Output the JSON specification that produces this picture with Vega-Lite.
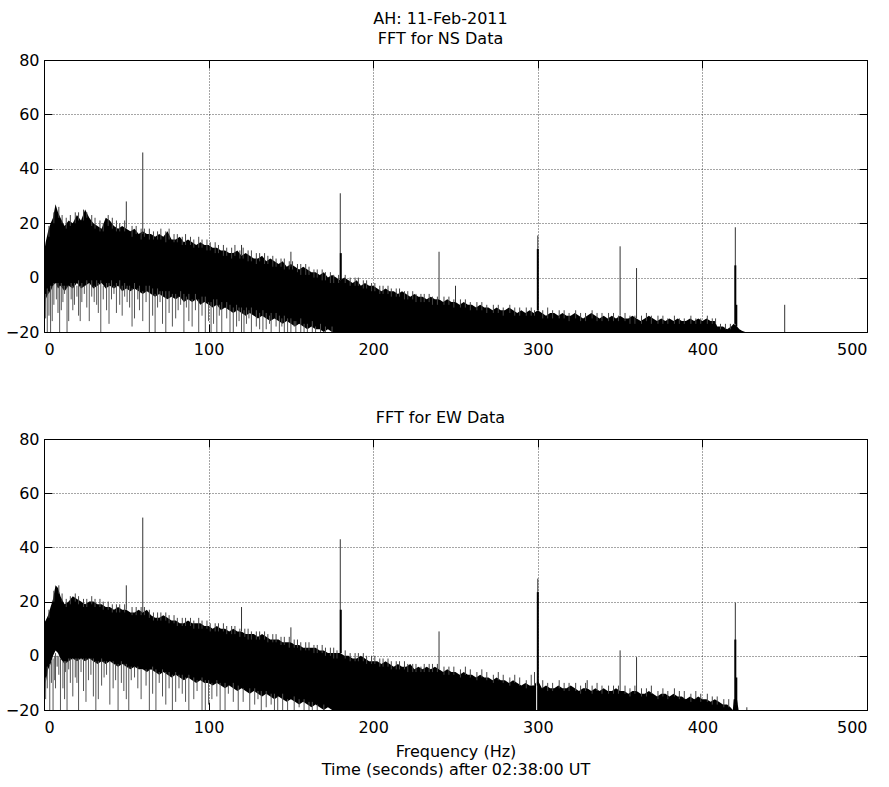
{
"$schema":"https://vega.github.io/schema/vega-lite/v6.json",
"background":"#fff",
"padding":{"left":4,"top":10,"right":20,"bottom":10},
"spacing":51,
"config":{
 "view":{"stroke":"#000","strokeWidth":1},
 "font":"DejaVu Sans",
 "title":{"font":"DejaVu Sans","fontSize":16,"fontWeight":"normal","color":"#000","lineHeight":20},
 "axis":{"labelFont":"DejaVu Sans","labelFontSize":16,"labelColor":"#000","titleFont":"DejaVu Sans","titleFontSize":16,"titleFontWeight":"normal","titleColor":"#000","tickColor":"#000","domain":false}
},
"datasets":{
"band":[
{"p":"NS","f":0,"hi":9,"lo":-20},{"p":"NS","f":1,"hi":13,"lo":-8},{"p":"NS","f":2.5,"hi":17,"lo":-6},{"p":"NS","f":4,"hi":20,"lo":-5},{"p":"NS","f":5.5,"hi":22,"lo":-3},{"p":"NS","f":7,"hi":27,"lo":-2},{"p":"NS","f":8.5,"hi":24,"lo":-4},{"p":"NS","f":10,"hi":22,"lo":-3},{"p":"NS","f":12.5,"hi":19,"lo":-5},{"p":"NS","f":15,"hi":21,"lo":-3},{"p":"NS","f":17.5,"hi":20,"lo":-4},{"p":"NS","f":20,"hi":23,"lo":-2},{"p":"NS","f":22.5,"hi":21,"lo":-4},{"p":"NS","f":25,"hi":25,"lo":-3},{"p":"NS","f":27.5,"hi":22,"lo":-2},{"p":"NS","f":30,"hi":20,"lo":-4},{"p":"NS","f":32.5,"hi":19,"lo":-3},{"p":"NS","f":35,"hi":18,"lo":-2},{"p":"NS","f":37.5,"hi":22,"lo":-4},{"p":"NS","f":40,"hi":21,"lo":-3},{"p":"NS","f":42.5,"hi":19,"lo":-4},{"p":"NS","f":45,"hi":18,"lo":-3},{"p":"NS","f":47.5,"hi":19,"lo":-5},{"p":"NS","f":50,"hi":18,"lo":-4},{"p":"NS","f":52.5,"hi":17,"lo":-5},{"p":"NS","f":55,"hi":18,"lo":-4},{"p":"NS","f":57.5,"hi":16,"lo":-5},{"p":"NS","f":60,"hi":17,"lo":-6},{"p":"NS","f":62.5,"hi":16,"lo":-5},{"p":"NS","f":65,"hi":16,"lo":-6},{"p":"NS","f":67.5,"hi":15,"lo":-7},{"p":"NS","f":70,"hi":16,"lo":-6},{"p":"NS","f":72.5,"hi":15,"lo":-7},{"p":"NS","f":75,"hi":17,"lo":-8},{"p":"NS","f":77.5,"hi":14,"lo":-7},{"p":"NS","f":80,"hi":14,"lo":-8},{"p":"NS","f":82.5,"hi":15,"lo":-7},{"p":"NS","f":85,"hi":13,"lo":-9},{"p":"NS","f":87.5,"hi":14,"lo":-8},{"p":"NS","f":90,"hi":13,"lo":-9},{"p":"NS","f":92.5,"hi":12,"lo":-8},{"p":"NS","f":95,"hi":13,"lo":-10},{"p":"NS","f":97.5,"hi":12,"lo":-9},{"p":"NS","f":100,"hi":12,"lo":-10},{"p":"NS","f":102.5,"hi":11,"lo":-11},{"p":"NS","f":105,"hi":11,"lo":-10},{"p":"NS","f":107.5,"hi":10,"lo":-12},{"p":"NS","f":110,"hi":10,"lo":-11},{"p":"NS","f":112.5,"hi":9,"lo":-12},{"p":"NS","f":115,"hi":9,"lo":-13},{"p":"NS","f":117.5,"hi":10,"lo":-12},{"p":"NS","f":120,"hi":8,"lo":-13},{"p":"NS","f":122.5,"hi":9,"lo":-14},{"p":"NS","f":125,"hi":8,"lo":-13},{"p":"NS","f":127.5,"hi":7,"lo":-14},{"p":"NS","f":130,"hi":7,"lo":-15},{"p":"NS","f":132.5,"hi":8,"lo":-14},{"p":"NS","f":135,"hi":6,"lo":-15},{"p":"NS","f":137.5,"hi":7,"lo":-16},{"p":"NS","f":140,"hi":6,"lo":-15},{"p":"NS","f":142.5,"hi":5,"lo":-16},{"p":"NS","f":145,"hi":6,"lo":-17},{"p":"NS","f":147.5,"hi":4,"lo":-16},{"p":"NS","f":150,"hi":5,"lo":-17},{"p":"NS","f":152.5,"hi":4,"lo":-18},{"p":"NS","f":155,"hi":3,"lo":-17},{"p":"NS","f":157.5,"hi":4,"lo":-18},{"p":"NS","f":160,"hi":3,"lo":-19},{"p":"NS","f":162.5,"hi":2,"lo":-18},{"p":"NS","f":165,"hi":2,"lo":-19},{"p":"NS","f":167.5,"hi":1,"lo":-19},{"p":"NS","f":170,"hi":2,"lo":-20},{"p":"NS","f":172.5,"hi":0,"lo":-19},{"p":"NS","f":175,"hi":1,"lo":-20},{"p":"NS","f":177.5,"hi":0,"lo":-20},{"p":"NS","f":180,"hi":-1,"lo":-20},{"p":"NS","f":182.5,"hi":0,"lo":-20},{"p":"NS","f":185,"hi":-1,"lo":-20},{"p":"NS","f":187.5,"hi":-2,"lo":-20},{"p":"NS","f":190,"hi":-1,"lo":-20},{"p":"NS","f":192.5,"hi":-3,"lo":-20},{"p":"NS","f":195,"hi":-2,"lo":-20},{"p":"NS","f":197.5,"hi":-3,"lo":-20},{"p":"NS","f":200,"hi":-3,"lo":-20},{"p":"NS","f":202.5,"hi":-4,"lo":-20},{"p":"NS","f":205,"hi":-5,"lo":-20},{"p":"NS","f":207.5,"hi":-4,"lo":-20},{"p":"NS","f":210,"hi":-5,"lo":-20},{"p":"NS","f":212.5,"hi":-5,"lo":-20},{"p":"NS","f":215,"hi":-6,"lo":-20},{"p":"NS","f":217.5,"hi":-5,"lo":-20},{"p":"NS","f":220,"hi":-6,"lo":-20},{"p":"NS","f":222.5,"hi":-7,"lo":-20},{"p":"NS","f":225,"hi":-6,"lo":-20},{"p":"NS","f":227.5,"hi":-7,"lo":-20},{"p":"NS","f":230,"hi":-7,"lo":-20},{"p":"NS","f":232.5,"hi":-8,"lo":-20},{"p":"NS","f":235,"hi":-7,"lo":-20},{"p":"NS","f":237.5,"hi":-8,"lo":-20},{"p":"NS","f":240,"hi":-8,"lo":-20},{"p":"NS","f":242.5,"hi":-9,"lo":-20},{"p":"NS","f":245,"hi":-8,"lo":-20},{"p":"NS","f":247.5,"hi":-9,"lo":-20},{"p":"NS","f":250,"hi":-9,"lo":-20},{"p":"NS","f":252.5,"hi":-10,"lo":-20},{"p":"NS","f":255,"hi":-9,"lo":-20},{"p":"NS","f":257.5,"hi":-10,"lo":-20},{"p":"NS","f":260,"hi":-10,"lo":-20},{"p":"NS","f":262.5,"hi":-11,"lo":-20},{"p":"NS","f":265,"hi":-10,"lo":-20},{"p":"NS","f":267.5,"hi":-11,"lo":-20},{"p":"NS","f":270,"hi":-11,"lo":-20},{"p":"NS","f":272.5,"hi":-12,"lo":-20},{"p":"NS","f":275,"hi":-11,"lo":-20},{"p":"NS","f":277.5,"hi":-12,"lo":-20},{"p":"NS","f":280,"hi":-12,"lo":-20},{"p":"NS","f":282.5,"hi":-11,"lo":-20},{"p":"NS","f":285,"hi":-12,"lo":-20},{"p":"NS","f":287.5,"hi":-13,"lo":-20},{"p":"NS","f":290,"hi":-12,"lo":-20},{"p":"NS","f":292.5,"hi":-13,"lo":-20},{"p":"NS","f":295,"hi":-12,"lo":-20},{"p":"NS","f":297.5,"hi":-13,"lo":-20},{"p":"NS","f":300,"hi":-12,"lo":-20},{"p":"NS","f":302.5,"hi":-13,"lo":-20},{"p":"NS","f":305,"hi":-14,"lo":-20},{"p":"NS","f":307.5,"hi":-13,"lo":-20},{"p":"NS","f":310,"hi":-13,"lo":-20},{"p":"NS","f":312.5,"hi":-14,"lo":-20},{"p":"NS","f":315,"hi":-13,"lo":-20},{"p":"NS","f":317.5,"hi":-14,"lo":-20},{"p":"NS","f":320,"hi":-14,"lo":-20},{"p":"NS","f":322.5,"hi":-13,"lo":-20},{"p":"NS","f":325,"hi":-14,"lo":-20},{"p":"NS","f":327.5,"hi":-15,"lo":-20},{"p":"NS","f":330,"hi":-14,"lo":-20},{"p":"NS","f":332.5,"hi":-13,"lo":-20},{"p":"NS","f":335,"hi":-14,"lo":-20},{"p":"NS","f":337.5,"hi":-15,"lo":-20},{"p":"NS","f":340,"hi":-14,"lo":-20},{"p":"NS","f":342.5,"hi":-15,"lo":-20},{"p":"NS","f":345,"hi":-14,"lo":-20},{"p":"NS","f":347.5,"hi":-15,"lo":-20},{"p":"NS","f":350,"hi":-14,"lo":-20},{"p":"NS","f":352.5,"hi":-15,"lo":-20},{"p":"NS","f":355,"hi":-15,"lo":-20},{"p":"NS","f":357.5,"hi":-14,"lo":-20},{"p":"NS","f":360,"hi":-15,"lo":-20},{"p":"NS","f":362.5,"hi":-16,"lo":-20},{"p":"NS","f":365,"hi":-15,"lo":-20},{"p":"NS","f":367.5,"hi":-14,"lo":-20},{"p":"NS","f":370,"hi":-15,"lo":-20},{"p":"NS","f":372.5,"hi":-16,"lo":-20},{"p":"NS","f":375,"hi":-15,"lo":-20},{"p":"NS","f":377.5,"hi":-16,"lo":-20},{"p":"NS","f":380,"hi":-15,"lo":-20},{"p":"NS","f":382.5,"hi":-16,"lo":-20},{"p":"NS","f":385,"hi":-15,"lo":-20},{"p":"NS","f":387.5,"hi":-16,"lo":-20},{"p":"NS","f":390,"hi":-16,"lo":-20},{"p":"NS","f":392.5,"hi":-15,"lo":-20},{"p":"NS","f":395,"hi":-16,"lo":-20},{"p":"NS","f":397.5,"hi":-15,"lo":-20},{"p":"NS","f":400,"hi":-16,"lo":-20},{"p":"NS","f":402.5,"hi":-15,"lo":-20},{"p":"NS","f":405,"hi":-16,"lo":-20},{"p":"NS","f":407.5,"hi":-16,"lo":-20},{"p":"NS","f":409,"hi":-18,"lo":-20},{"p":"NS","f":412.5,"hi":-18,"lo":-20},{"p":"NS","f":415,"hi":-19,"lo":-20},{"p":"NS","f":417.5,"hi":-18,"lo":-20},{"p":"NS","f":419,"hi":-17,"lo":-20},{"p":"NS","f":421,"hi":-18,"lo":-20},{"p":"NS","f":422.5,"hi":-19,"lo":-20},{"p":"NS","f":424,"hi":-19.5,"lo":-20},{"p":"NS","f":426,"hi":-20,"lo":-20},
{"p":"EW","f":0,"hi":12,"lo":-20},{"p":"EW","f":1,"hi":13,"lo":-10},{"p":"EW","f":2.5,"hi":15,"lo":-5},{"p":"EW","f":4,"hi":18,"lo":-3},{"p":"EW","f":5.5,"hi":21,"lo":0},{"p":"EW","f":7,"hi":26,"lo":2},{"p":"EW","f":8.5,"hi":25,"lo":1},{"p":"EW","f":10,"hi":22,"lo":-1},{"p":"EW","f":12.5,"hi":19,"lo":-3},{"p":"EW","f":15,"hi":20,"lo":-2},{"p":"EW","f":17.5,"hi":22,"lo":-1},{"p":"EW","f":20,"hi":21,"lo":-2},{"p":"EW","f":22.5,"hi":20,"lo":-1},{"p":"EW","f":25,"hi":19,"lo":-2},{"p":"EW","f":27.5,"hi":20,"lo":-1},{"p":"EW","f":30,"hi":20,"lo":-2},{"p":"EW","f":32.5,"hi":19,"lo":-3},{"p":"EW","f":35,"hi":19,"lo":-2},{"p":"EW","f":37.5,"hi":18,"lo":-3},{"p":"EW","f":40,"hi":18,"lo":-2},{"p":"EW","f":42.5,"hi":17,"lo":-3},{"p":"EW","f":45,"hi":18,"lo":-4},{"p":"EW","f":47.5,"hi":17,"lo":-3},{"p":"EW","f":50,"hi":17,"lo":-4},{"p":"EW","f":52.5,"hi":16,"lo":-5},{"p":"EW","f":55,"hi":16,"lo":-4},{"p":"EW","f":57.5,"hi":17,"lo":-5},{"p":"EW","f":60,"hi":16,"lo":-5},{"p":"EW","f":62.5,"hi":17,"lo":-6},{"p":"EW","f":65,"hi":15,"lo":-5},{"p":"EW","f":67.5,"hi":14,"lo":-6},{"p":"EW","f":70,"hi":14,"lo":-7},{"p":"EW","f":72.5,"hi":15,"lo":-6},{"p":"EW","f":75,"hi":14,"lo":-7},{"p":"EW","f":77.5,"hi":13,"lo":-8},{"p":"EW","f":80,"hi":13,"lo":-7},{"p":"EW","f":82.5,"hi":12,"lo":-8},{"p":"EW","f":85,"hi":12,"lo":-9},{"p":"EW","f":87.5,"hi":13,"lo":-8},{"p":"EW","f":90,"hi":12,"lo":-9},{"p":"EW","f":92.5,"hi":12,"lo":-10},{"p":"EW","f":95,"hi":12,"lo":-9},{"p":"EW","f":97.5,"hi":11,"lo":-10},{"p":"EW","f":100,"hi":11,"lo":-10},{"p":"EW","f":102.5,"hi":10,"lo":-11},{"p":"EW","f":105,"hi":11,"lo":-10},{"p":"EW","f":107.5,"hi":10,"lo":-11},{"p":"EW","f":110,"hi":10,"lo":-12},{"p":"EW","f":112.5,"hi":9,"lo":-11},{"p":"EW","f":115,"hi":10,"lo":-12},{"p":"EW","f":117.5,"hi":9,"lo":-13},{"p":"EW","f":120,"hi":9,"lo":-12},{"p":"EW","f":122.5,"hi":8,"lo":-13},{"p":"EW","f":125,"hi":8,"lo":-14},{"p":"EW","f":127.5,"hi":8,"lo":-13},{"p":"EW","f":130,"hi":7,"lo":-14},{"p":"EW","f":132.5,"hi":8,"lo":-15},{"p":"EW","f":135,"hi":7,"lo":-14},{"p":"EW","f":137.5,"hi":6,"lo":-15},{"p":"EW","f":140,"hi":6,"lo":-16},{"p":"EW","f":142.5,"hi":6,"lo":-15},{"p":"EW","f":145,"hi":5,"lo":-16},{"p":"EW","f":147.5,"hi":5,"lo":-17},{"p":"EW","f":150,"hi":5,"lo":-16},{"p":"EW","f":152.5,"hi":4,"lo":-17},{"p":"EW","f":155,"hi":4,"lo":-18},{"p":"EW","f":157.5,"hi":3,"lo":-17},{"p":"EW","f":160,"hi":3,"lo":-18},{"p":"EW","f":162.5,"hi":3,"lo":-19},{"p":"EW","f":165,"hi":3,"lo":-18},{"p":"EW","f":167.5,"hi":2,"lo":-19},{"p":"EW","f":170,"hi":2,"lo":-20},{"p":"EW","f":172.5,"hi":1,"lo":-19},{"p":"EW","f":175,"hi":1,"lo":-20},{"p":"EW","f":177.5,"hi":1,"lo":-20},{"p":"EW","f":180,"hi":1,"lo":-20},{"p":"EW","f":182.5,"hi":0,"lo":-20},{"p":"EW","f":185,"hi":0,"lo":-20},{"p":"EW","f":187.5,"hi":-1,"lo":-20},{"p":"EW","f":190,"hi":-1,"lo":-20},{"p":"EW","f":192.5,"hi":0,"lo":-20},{"p":"EW","f":195,"hi":-1,"lo":-20},{"p":"EW","f":197.5,"hi":-2,"lo":-20},{"p":"EW","f":200,"hi":-2,"lo":-20},{"p":"EW","f":202.5,"hi":-2,"lo":-20},{"p":"EW","f":205,"hi":-3,"lo":-20},{"p":"EW","f":207.5,"hi":-2,"lo":-20},{"p":"EW","f":210,"hi":-3,"lo":-20},{"p":"EW","f":212.5,"hi":-4,"lo":-20},{"p":"EW","f":215,"hi":-3,"lo":-20},{"p":"EW","f":217.5,"hi":-4,"lo":-20},{"p":"EW","f":220,"hi":-4,"lo":-20},{"p":"EW","f":222.5,"hi":-3,"lo":-20},{"p":"EW","f":225,"hi":-5,"lo":-20},{"p":"EW","f":227.5,"hi":-4,"lo":-20},{"p":"EW","f":230,"hi":-5,"lo":-20},{"p":"EW","f":232.5,"hi":-4,"lo":-20},{"p":"EW","f":235,"hi":-5,"lo":-20},{"p":"EW","f":237.5,"hi":-4,"lo":-20},{"p":"EW","f":240,"hi":-5,"lo":-20},{"p":"EW","f":242.5,"hi":-6,"lo":-20},{"p":"EW","f":245,"hi":-5,"lo":-20},{"p":"EW","f":247.5,"hi":-6,"lo":-20},{"p":"EW","f":250,"hi":-6,"lo":-20},{"p":"EW","f":252.5,"hi":-7,"lo":-20},{"p":"EW","f":255,"hi":-6,"lo":-20},{"p":"EW","f":257.5,"hi":-7,"lo":-20},{"p":"EW","f":260,"hi":-7,"lo":-20},{"p":"EW","f":262.5,"hi":-8,"lo":-20},{"p":"EW","f":265,"hi":-7,"lo":-20},{"p":"EW","f":267.5,"hi":-8,"lo":-20},{"p":"EW","f":270,"hi":-8,"lo":-20},{"p":"EW","f":272.5,"hi":-9,"lo":-20},{"p":"EW","f":275,"hi":-8,"lo":-20},{"p":"EW","f":277.5,"hi":-9,"lo":-20},{"p":"EW","f":280,"hi":-9,"lo":-20},{"p":"EW","f":282.5,"hi":-10,"lo":-20},{"p":"EW","f":285,"hi":-9,"lo":-20},{"p":"EW","f":287.5,"hi":-10,"lo":-20},{"p":"EW","f":290,"hi":-11,"lo":-20},{"p":"EW","f":292.5,"hi":-10,"lo":-20},{"p":"EW","f":295,"hi":-11,"lo":-20},{"p":"EW","f":297.5,"hi":-11,"lo":-20},{"p":"EW","f":300,"hi":-9,"lo":-20},{"p":"EW","f":302.5,"hi":-12,"lo":-20},{"p":"EW","f":305,"hi":-11,"lo":-20},{"p":"EW","f":307.5,"hi":-12,"lo":-20},{"p":"EW","f":310,"hi":-12,"lo":-20},{"p":"EW","f":312.5,"hi":-11,"lo":-20},{"p":"EW","f":315,"hi":-12,"lo":-20},{"p":"EW","f":317.5,"hi":-12,"lo":-20},{"p":"EW","f":320,"hi":-11,"lo":-20},{"p":"EW","f":322.5,"hi":-12,"lo":-20},{"p":"EW","f":325,"hi":-13,"lo":-20},{"p":"EW","f":327.5,"hi":-12,"lo":-20},{"p":"EW","f":330,"hi":-12,"lo":-20},{"p":"EW","f":332.5,"hi":-13,"lo":-20},{"p":"EW","f":335,"hi":-12,"lo":-20},{"p":"EW","f":337.5,"hi":-13,"lo":-20},{"p":"EW","f":340,"hi":-12,"lo":-20},{"p":"EW","f":342.5,"hi":-13,"lo":-20},{"p":"EW","f":345,"hi":-13,"lo":-20},{"p":"EW","f":347.5,"hi":-12,"lo":-20},{"p":"EW","f":350,"hi":-13,"lo":-20},{"p":"EW","f":352.5,"hi":-13,"lo":-20},{"p":"EW","f":355,"hi":-14,"lo":-20},{"p":"EW","f":357.5,"hi":-13,"lo":-20},{"p":"EW","f":360,"hi":-13,"lo":-20},{"p":"EW","f":362.5,"hi":-14,"lo":-20},{"p":"EW","f":365,"hi":-14,"lo":-20},{"p":"EW","f":367.5,"hi":-13,"lo":-20},{"p":"EW","f":370,"hi":-14,"lo":-20},{"p":"EW","f":372.5,"hi":-15,"lo":-20},{"p":"EW","f":375,"hi":-14,"lo":-20},{"p":"EW","f":377.5,"hi":-14,"lo":-20},{"p":"EW","f":380,"hi":-15,"lo":-20},{"p":"EW","f":382.5,"hi":-14,"lo":-20},{"p":"EW","f":385,"hi":-15,"lo":-20},{"p":"EW","f":387.5,"hi":-15,"lo":-20},{"p":"EW","f":390,"hi":-16,"lo":-20},{"p":"EW","f":392.5,"hi":-15,"lo":-20},{"p":"EW","f":395,"hi":-16,"lo":-20},{"p":"EW","f":397.5,"hi":-15,"lo":-20},{"p":"EW","f":400,"hi":-16,"lo":-20},{"p":"EW","f":402.5,"hi":-16,"lo":-20},{"p":"EW","f":405,"hi":-17,"lo":-20},{"p":"EW","f":407.5,"hi":-16,"lo":-20},{"p":"EW","f":410,"hi":-17,"lo":-20},{"p":"EW","f":412.5,"hi":-18,"lo":-20},{"p":"EW","f":415,"hi":-18,"lo":-20},{"p":"EW","f":417,"hi":-19,"lo":-20},{"p":"EW","f":418.5,"hi":-20,"lo":-20},{"p":"EW","f":419,"hi":-16,"lo":-20},{"p":"EW","f":421,"hi":-16,"lo":-20},{"p":"EW","f":422,"hi":-20,"lo":-20}
],
"spk":[
{"p":"NS","k":"down","f":2,"y":-20,"y2":-4},{"p":"NS","k":"down","f":4,"y":-20,"y2":-3},{"p":"NS","k":"down","f":6,"y":-10,"y2":-2},{"p":"NS","k":"down","f":8.5,"y":-13,"y2":-2},{"p":"NS","k":"down","f":10.5,"y":-12,"y2":-2},{"p":"NS","k":"down","f":12.5,"y":-6,"y2":-3},{"p":"NS","k":"down","f":14,"y":-20,"y2":-3},{"p":"NS","k":"down","f":16.5,"y":-8,"y2":-2},{"p":"NS","k":"down","f":18.5,"y":-10,"y2":-2},{"p":"NS","k":"down","f":21,"y":-14,"y2":-1},{"p":"NS","k":"down","f":23,"y":-9,"y2":-2},{"p":"NS","k":"down","f":26,"y":-11,"y2":-1},{"p":"NS","k":"down","f":29,"y":-7,"y2":-1},{"p":"NS","k":"down","f":32,"y":-10,"y2":-1},{"p":"NS","k":"down","f":34.5,"y":-20,"y2":-1},{"p":"NS","k":"down","f":38,"y":-12,"y2":-2},{"p":"NS","k":"down","f":41,"y":-8,"y2":-1},{"p":"NS","k":"down","f":44,"y":-13,"y2":-2},{"p":"NS","k":"down","f":46,"y":-10,"y2":-1},{"p":"NS","k":"down","f":49,"y":-7,"y2":-2},{"p":"NS","k":"down","f":52,"y":-11,"y2":-3},{"p":"NS","k":"down","f":55,"y":-15,"y2":-2},{"p":"NS","k":"down","f":58,"y":-12,"y2":-3},{"p":"NS","k":"down","f":62,"y":-9,"y2":-3},{"p":"NS","k":"down","f":64,"y":-20,"y2":-3},{"p":"NS","k":"down","f":66,"y":-14,"y2":-4},{"p":"NS","k":"down","f":69,"y":-11,"y2":-4},{"p":"NS","k":"down","f":72,"y":-17,"y2":-5},{"p":"NS","k":"down","f":74,"y":-20,"y2":-5},{"p":"NS","k":"down","f":76,"y":-13,"y2":-5},{"p":"NS","k":"down","f":80,"y":-15,"y2":-6},{"p":"NS","k":"down","f":83,"y":-10,"y2":-5},{"p":"NS","k":"down","f":85,"y":-20,"y2":-6},{"p":"NS","k":"down","f":88,"y":-16,"y2":-6},{"p":"NS","k":"down","f":92,"y":-12,"y2":-6},{"p":"NS","k":"down","f":96,"y":-14,"y2":-7},{"p":"NS","k":"down","f":98,"y":-20,"y2":-7},{"p":"NS","k":"down","f":103,"y":-17,"y2":-8},{"p":"NS","k":"down","f":105,"y":-20,"y2":-8},{"p":"NS","k":"down","f":108,"y":-20,"y2":-9},{"p":"NS","k":"down","f":111,"y":-15,"y2":-9},{"p":"NS","k":"down","f":113,"y":-20,"y2":-10},{"p":"NS","k":"down","f":117,"y":-18,"y2":-10},{"p":"NS","k":"down","f":120,"y":-20,"y2":-11},{"p":"NS","k":"down","f":123,"y":-17,"y2":-11},{"p":"NS","k":"down","f":126,"y":-20,"y2":-11},{"p":"NS","k":"down","f":129,"y":-18,"y2":-12},{"p":"NS","k":"down","f":133,"y":-20,"y2":-12},{"p":"NS","k":"down","f":135,"y":-19,"y2":-13},{"p":"NS","k":"down","f":138,"y":-20,"y2":-13},{"p":"NS","k":"down","f":141,"y":-18,"y2":-13},{"p":"NS","k":"down","f":143,"y":-20,"y2":-14},{"p":"NS","k":"down","f":146,"y":-20,"y2":-14},{"p":"NS","k":"down","f":150,"y":-20,"y2":-15},{"p":"NS","k":"down","f":153,"y":-20,"y2":-16},{"p":"NS","k":"down","f":156,"y":-20,"y2":-15},{"p":"NS","k":"down","f":160,"y":-20,"y2":-17},{"p":"NS","k":"down","f":163,"y":-20,"y2":-16},{"p":"NS","k":"down","f":168,"y":-20,"y2":-17},{"p":"NS","k":"down","f":175,"y":-20,"y2":-18},
{"p":"NS","k":"down","f":1,"y":-15,"y2":-6},{"p":"NS","k":"down","f":3,"y":-14,"y2":-5},{"p":"NS","k":"down","f":5,"y":-16,"y2":-3},{"p":"NS","k":"down","f":7.5,"y":-8,"y2":-2},{"p":"NS","k":"down","f":9.5,"y":-20,"y2":-3},{"p":"NS","k":"down","f":11.5,"y":-9,"y2":-3},{"p":"NS","k":"down","f":15,"y":-16,"y2":-3},{"p":"NS","k":"down","f":17.5,"y":-12,"y2":-3},{"p":"NS","k":"down","f":20,"y":-7,"y2":-3},{"p":"NS","k":"down","f":22,"y":-16,"y2":-3},{"p":"NS","k":"down","f":24.5,"y":-6,"y2":-3},{"p":"NS","k":"down","f":27.5,"y":-16,"y2":-2},{"p":"NS","k":"down","f":30.5,"y":-9,"y2":-3},{"p":"NS","k":"down","f":33,"y":-13,"y2":-2},{"p":"NS","k":"down","f":36,"y":-8,"y2":-3},{"p":"NS","k":"down","f":39.5,"y":-17,"y2":-2},{"p":"NS","k":"down","f":42.5,"y":-6,"y2":-3},{"p":"NS","k":"down","f":47.5,"y":-14,"y2":-3},{"p":"NS","k":"down","f":50.5,"y":-9,"y2":-3},{"p":"NS","k":"down","f":53.5,"y":-18,"y2":-4},{"p":"NS","k":"down","f":57,"y":-8,"y2":-4},{"p":"NS","k":"down","f":60,"y":-16,"y2":-5},{"p":"NS","k":"down","f":67.5,"y":-20,"y2":-6},{"p":"NS","k":"down","f":70.5,"y":-9,"y2":-5},{"p":"NS","k":"down","f":78,"y":-18,"y2":-6},{"p":"NS","k":"down","f":81.5,"y":-12,"y2":-7},{"p":"NS","k":"down","f":86.5,"y":-11,"y2":-7},{"p":"NS","k":"down","f":90,"y":-18,"y2":-8},{"p":"NS","k":"down","f":94,"y":-20,"y2":-8},{"p":"NS","k":"down","f":100,"y":-16,"y2":-9},{"p":"NS","k":"down","f":101.5,"y":-20,"y2":-9},{"p":"NS","k":"down","f":106.5,"y":-14,"y2":-10},{"p":"NS","k":"down","f":115,"y":-20,"y2":-11},{"p":"NS","k":"down","f":118.5,"y":-16,"y2":-11},{"p":"NS","k":"down","f":121.5,"y":-20,"y2":-12},{"p":"NS","k":"down","f":124.5,"y":-15,"y2":-12},{"p":"NS","k":"down","f":131,"y":-19,"y2":-13},{"p":"NS","k":"down","f":137,"y":-17,"y2":-14},{"p":"NS","k":"down","f":144.5,"y":-18,"y2":-15},{"p":"NS","k":"down","f":148,"y":-20,"y2":-15},{"p":"NS","k":"down","f":152,"y":-18,"y2":-16},{"p":"NS","k":"down","f":158,"y":-20,"y2":-17},{"p":"NS","k":"down","f":165,"y":-20,"y2":-18},{"p":"NS","k":"down","f":171,"y":-20,"y2":-18},
{"p":"NS","k":"fr","f":3,"y":19,"y2":15},{"p":"NS","k":"fr","f":6,"y":24,"y2":20},{"p":"NS","k":"fr","f":9,"y":26,"y2":22},{"p":"NS","k":"fr","f":11,"y":23,"y2":20},{"p":"NS","k":"fr","f":13.5,"y":22,"y2":18},{"p":"NS","k":"fr","f":16,"y":23,"y2":19},{"p":"NS","k":"fr","f":19,"y":24,"y2":20},{"p":"NS","k":"fr","f":21,"y":24,"y2":21},{"p":"NS","k":"fr","f":24,"y":25,"y2":21},{"p":"NS","k":"fr","f":26,"y":24,"y2":22},{"p":"NS","k":"fr","f":29,"y":23,"y2":19},{"p":"NS","k":"fr","f":31,"y":22,"y2":18},{"p":"NS","k":"fr","f":34,"y":21,"y2":17},{"p":"NS","k":"fr","f":36,"y":20,"y2":17},{"p":"NS","k":"fr","f":39,"y":23,"y2":19},{"p":"NS","k":"fr","f":41.5,"y":22,"y2":18},{"p":"NS","k":"fr","f":44,"y":21,"y2":17},{"p":"NS","k":"fr","f":46,"y":20,"y2":17},{"p":"NS","k":"fr","f":49,"y":21,"y2":17},{"p":"NS","k":"fr","f":53.5,"y":19,"y2":15},{"p":"NS","k":"fr","f":56,"y":19,"y2":16},{"p":"NS","k":"fr","f":59,"y":18,"y2":14},{"p":"NS","k":"fr","f":61,"y":18,"y2":15},{"p":"NS","k":"fr","f":64,"y":18,"y2":14},{"p":"NS","k":"fr","f":66.5,"y":17,"y2":14},{"p":"NS","k":"fr","f":69,"y":17,"y2":14},{"p":"NS","k":"fr","f":71,"y":18,"y2":14},{"p":"NS","k":"fr","f":74,"y":17,"y2":13},{"p":"NS","k":"fr","f":76,"y":18,"y2":14},{"p":"NS","k":"fr","f":79,"y":16,"y2":13},{"p":"NS","k":"fr","f":81,"y":16,"y2":13},{"p":"NS","k":"fr","f":84,"y":15,"y2":12},{"p":"NS","k":"fr","f":86,"y":16,"y2":12},{"p":"NS","k":"fr","f":89,"y":15,"y2":12},{"p":"NS","k":"fr","f":91,"y":14,"y2":11},{"p":"NS","k":"fr","f":94,"y":15,"y2":11},{"p":"NS","k":"fr","f":96,"y":14,"y2":11},{"p":"NS","k":"fr","f":99,"y":14,"y2":10},{"p":"NS","k":"fr","f":101,"y":13,"y2":10},{"p":"NS","k":"fr","f":104,"y":13,"y2":9},{"p":"NS","k":"fr","f":106,"y":12,"y2":9},{"p":"NS","k":"fr","f":109,"y":12,"y2":8},{"p":"NS","k":"fr","f":111,"y":11,"y2":8},{"p":"NS","k":"fr","f":114,"y":11,"y2":7},{"p":"NS","k":"fr","f":116,"y":12,"y2":8},{"p":"NS","k":"fr","f":119,"y":10,"y2":7},{"p":"NS","k":"fr","f":121,"y":11,"y2":7},{"p":"NS","k":"fr","f":124,"y":10,"y2":6},{"p":"NS","k":"fr","f":126,"y":10,"y2":6},{"p":"NS","k":"fr","f":129,"y":9,"y2":5},{"p":"NS","k":"fr","f":131,"y":9,"y2":6},{"p":"NS","k":"fr","f":134,"y":9,"y2":5},{"p":"NS","k":"fr","f":136,"y":8,"y2":5},{"p":"NS","k":"fr","f":139,"y":8,"y2":4},{"p":"NS","k":"fr","f":141,"y":7,"y2":4},{"p":"NS","k":"fr","f":144,"y":7,"y2":4},{"p":"NS","k":"fr","f":146,"y":7,"y2":3},{"p":"NS","k":"fr","f":149,"y":6,"y2":3},{"p":"NS","k":"fr","f":151,"y":6,"y2":3},{"p":"NS","k":"fr","f":154,"y":5,"y2":2},{"p":"NS","k":"fr","f":156,"y":5,"y2":1},{"p":"NS","k":"fr","f":159,"y":5,"y2":1},{"p":"NS","k":"fr","f":161,"y":4,"y2":1},{"p":"NS","k":"fr","f":164,"y":3,"y2":0},{"p":"NS","k":"fr","f":166,"y":3,"y2":0},{"p":"NS","k":"fr","f":169,"y":3,"y2":-1},{"p":"NS","k":"fr","f":171,"y":2,"y2":-1},{"p":"NS","k":"fr","f":174,"y":2,"y2":-2},{"p":"NS","k":"fr","f":176,"y":1,"y2":-2},{"p":"NS","k":"fr","f":179,"y":1,"y2":-2},{"p":"NS","k":"fr","f":183,"y":1,"y2":-2},{"p":"NS","k":"fr","f":186,"y":0,"y2":-3},{"p":"NS","k":"fr","f":189,"y":0,"y2":-3},{"p":"NS","k":"fr","f":191,"y":0,"y2":-3},{"p":"NS","k":"fr","f":194,"y":-1,"y2":-4},{"p":"NS","k":"fr","f":196,"y":-1,"y2":-4},{"p":"NS","k":"fr","f":199,"y":-2,"y2":-5},{"p":"NS","k":"fr","f":201,"y":-2,"y2":-5},{"p":"NS","k":"fr","f":204,"y":-3,"y2":-6},{"p":"NS","k":"fr","f":206,"y":-3,"y2":-6},{"p":"NS","k":"fr","f":209,"y":-3,"y2":-6},{"p":"NS","k":"fr","f":211,"y":-4,"y2":-7},{"p":"NS","k":"fr","f":214,"y":-4,"y2":-7},{"p":"NS","k":"fr","f":216,"y":-4,"y2":-7},{"p":"NS","k":"fr","f":219,"y":-5,"y2":-8},{"p":"NS","k":"fr","f":221,"y":-5,"y2":-8},{"p":"NS","k":"fr","f":224,"y":-5,"y2":-8},{"p":"NS","k":"fr","f":226,"y":-6,"y2":-9},{"p":"NS","k":"fr","f":229,"y":-6,"y2":-9},{"p":"NS","k":"fr","f":231,"y":-6,"y2":-9},{"p":"NS","k":"fr","f":234,"y":-6,"y2":-9},{"p":"NS","k":"fr","f":236,"y":-7,"y2":-10},{"p":"NS","k":"fr","f":239,"y":-7,"y2":-10},{"p":"NS","k":"fr","f":243,"y":-7,"y2":-10},{"p":"NS","k":"fr","f":246,"y":-7,"y2":-10},{"p":"NS","k":"fr","f":249,"y":-8,"y2":-11},{"p":"NS","k":"fr","f":253,"y":-8,"y2":-11},{"p":"NS","k":"fr","f":256,"y":-8,"y2":-11},{"p":"NS","k":"fr","f":259,"y":-9,"y2":-12},{"p":"NS","k":"fr","f":263,"y":-9,"y2":-12},{"p":"NS","k":"fr","f":266,"y":-9,"y2":-12},{"p":"NS","k":"fr","f":269,"y":-10,"y2":-13},{"p":"NS","k":"fr","f":273,"y":-10,"y2":-13},{"p":"NS","k":"fr","f":276,"y":-10,"y2":-13},{"p":"NS","k":"fr","f":279,"y":-11,"y2":-14},{"p":"NS","k":"fr","f":283,"y":-10,"y2":-13},{"p":"NS","k":"fr","f":286,"y":-11,"y2":-14},{"p":"NS","k":"fr","f":289,"y":-11,"y2":-14},{"p":"NS","k":"fr","f":293,"y":-11,"y2":-14},{"p":"NS","k":"fr","f":296,"y":-11,"y2":-14},{"p":"NS","k":"fr","f":298,"y":-12,"y2":-14},{"p":"NS","k":"fr","f":303,"y":-12,"y2":-15},{"p":"NS","k":"fr","f":306,"y":-11,"y2":-15},{"p":"NS","k":"fr","f":309,"y":-12,"y2":-15},{"p":"NS","k":"fr","f":313,"y":-12,"y2":-15},{"p":"NS","k":"fr","f":316,"y":-12,"y2":-15},{"p":"NS","k":"fr","f":319,"y":-13,"y2":-16},{"p":"NS","k":"fr","f":323,"y":-12,"y2":-15},{"p":"NS","k":"fr","f":326,"y":-13,"y2":-16},{"p":"NS","k":"fr","f":329,"y":-13,"y2":-16},{"p":"NS","k":"fr","f":333,"y":-12,"y2":-15},{"p":"NS","k":"fr","f":336,"y":-13,"y2":-16},{"p":"NS","k":"fr","f":339,"y":-13,"y2":-16},{"p":"NS","k":"fr","f":343,"y":-13,"y2":-16},{"p":"NS","k":"fr","f":346,"y":-13,"y2":-16},{"p":"NS","k":"fr","f":349,"y":-14,"y2":-16},{"p":"NS","k":"fr","f":353,"y":-13,"y2":-16},{"p":"NS","k":"fr","f":356,"y":-14,"y2":-17},{"p":"NS","k":"fr","f":359,"y":-14,"y2":-17},{"p":"NS","k":"fr","f":363,"y":-14,"y2":-17},{"p":"NS","k":"fr","f":366,"y":-13,"y2":-16},{"p":"NS","k":"fr","f":369,"y":-14,"y2":-17},{"p":"NS","k":"fr","f":373,"y":-14,"y2":-17},{"p":"NS","k":"fr","f":376,"y":-14,"y2":-17},{"p":"NS","k":"fr","f":379,"y":-15,"y2":-17},{"p":"NS","k":"fr","f":383,"y":-14,"y2":-17},{"p":"NS","k":"fr","f":386,"y":-15,"y2":-17},{"p":"NS","k":"fr","f":389,"y":-15,"y2":-17},{"p":"NS","k":"fr","f":393,"y":-14,"y2":-17},{"p":"NS","k":"fr","f":396,"y":-15,"y2":-17},{"p":"NS","k":"fr","f":399,"y":-15,"y2":-17},{"p":"NS","k":"fr","f":403,"y":-14,"y2":-17},{"p":"NS","k":"fr","f":406,"y":-15,"y2":-17},{"p":"NS","k":"fr","f":408,"y":-15,"y2":-17},{"p":"NS","k":"fr","f":411,"y":-17,"y2":-19},{"p":"NS","k":"fr","f":414,"y":-17,"y2":-19},{"p":"NS","k":"fr","f":417,"y":-17,"y2":-19},
{"p":"NS","k":"up","f":50,"y":28,"y2":18},{"p":"NS","k":"up","f":60,"y":46,"y2":16},{"p":"NS","k":"up","f":120,"y":12,"y2":8},{"p":"NS","k":"up","f":150,"y":9.5,"y2":4},{"p":"NS","k":"up","f":180,"y":31,"y2":-1},{"p":"NS","k":"up","f":240,"y":9.5,"y2":-8},{"p":"NS","k":"up","f":250,"y":-3,"y2":-9},{"p":"NS","k":"up","f":300,"y":15.5,"y2":-12},{"p":"NS","k":"up","f":350,"y":11.5,"y2":-14},{"p":"NS","k":"up","f":360,"y":3.5,"y2":-15},{"p":"NS","k":"up","f":420,"y":18.5,"y2":-17},{"p":"NS","k":"up","f":450,"y":-10,"y2":-20},
{"p":"NS","k":"thick","f":180.3,"y":9,"y2":-1},{"p":"NS","k":"thick","f":300,"y":10.5,"y2":-12},{"p":"NS","k":"thick","f":420,"y":4.5,"y2":-17},{"p":"NS","k":"thick","f":420.6,"y":-10,"y2":-18},
{"p":"EW","k":"down","f":2,"y":-12,"y2":-4},{"p":"EW","k":"down","f":3.5,"y":-20,"y2":-3},{"p":"EW","k":"down","f":5.5,"y":-20,"y2":-1},{"p":"EW","k":"down","f":6.5,"y":-9,"y2":0},{"p":"EW","k":"down","f":8,"y":-4,"y2":0},{"p":"EW","k":"down","f":10,"y":-20,"y2":-1},{"p":"EW","k":"down","f":11.5,"y":-12,"y2":-2},{"p":"EW","k":"down","f":13,"y":-6,"y2":-2},{"p":"EW","k":"down","f":14,"y":-20,"y2":-2},{"p":"EW","k":"down","f":16,"y":-10,"y2":-1},{"p":"EW","k":"down","f":19,"y":-8,"y2":-1},{"p":"EW","k":"down","f":21,"y":-20,"y2":-1},{"p":"EW","k":"down","f":24,"y":-13,"y2":-1},{"p":"EW","k":"down","f":27,"y":-9,"y2":-1},{"p":"EW","k":"down","f":30,"y":-15,"y2":-1},{"p":"EW","k":"down","f":31.5,"y":-20,"y2":-2},{"p":"EW","k":"down","f":35,"y":-11,"y2":-1},{"p":"EW","k":"down","f":38,"y":-7,"y2":-2},{"p":"EW","k":"down","f":42,"y":-12,"y2":-2},{"p":"EW","k":"down","f":45,"y":-20,"y2":-3},{"p":"EW","k":"down","f":47,"y":-10,"y2":-2},{"p":"EW","k":"down","f":50,"y":-16,"y2":-3},{"p":"EW","k":"down","f":53,"y":-9,"y2":-4},{"p":"EW","k":"down","f":57,"y":-12,"y2":-4},{"p":"EW","k":"down","f":62,"y":-11,"y2":-5},{"p":"EW","k":"down","f":66,"y":-14,"y2":-4},{"p":"EW","k":"down","f":68,"y":-20,"y2":-5},{"p":"EW","k":"down","f":72,"y":-15,"y2":-5},{"p":"EW","k":"down","f":76,"y":-12,"y2":-6},{"p":"EW","k":"down","f":80,"y":-17,"y2":-6},{"p":"EW","k":"down","f":84,"y":-14,"y2":-7},{"p":"EW","k":"down","f":88,"y":-20,"y2":-7},{"p":"EW","k":"down","f":91,"y":-16,"y2":-8},{"p":"EW","k":"down","f":96,"y":-20,"y2":-8},{"p":"EW","k":"down","f":100,"y":-18,"y2":-9},{"p":"EW","k":"down","f":105,"y":-15,"y2":-9},{"p":"EW","k":"down","f":110,"y":-20,"y2":-10},{"p":"EW","k":"down","f":115,"y":-17,"y2":-10},{"p":"EW","k":"down","f":118,"y":-20,"y2":-11},{"p":"EW","k":"down","f":125,"y":-20,"y2":-12},{"p":"EW","k":"down","f":128,"y":-18,"y2":-12},{"p":"EW","k":"down","f":132,"y":-20,"y2":-13},{"p":"EW","k":"down","f":135,"y":-19,"y2":-13},{"p":"EW","k":"down","f":140,"y":-20,"y2":-14},{"p":"EW","k":"down","f":145,"y":-20,"y2":-14},{"p":"EW","k":"down","f":152,"y":-20,"y2":-15},{"p":"EW","k":"down","f":158,"y":-20,"y2":-16},{"p":"EW","k":"down","f":163,"y":-20,"y2":-17},{"p":"EW","k":"down","f":170,"y":-20,"y2":-18},
{"p":"EW","k":"down","f":1,"y":-16,"y2":-8},{"p":"EW","k":"down","f":4.5,"y":-10,"y2":-2},{"p":"EW","k":"down","f":7,"y":-12,"y2":1},{"p":"EW","k":"down","f":9,"y":-7,"y2":0},{"p":"EW","k":"down","f":12.5,"y":-16,"y2":-2},{"p":"EW","k":"down","f":15,"y":-5,"y2":-1},{"p":"EW","k":"down","f":17.5,"y":-15,"y2":-1},{"p":"EW","k":"down","f":20,"y":-10,"y2":-1},{"p":"EW","k":"down","f":22.5,"y":-6,"y2":-1},{"p":"EW","k":"down","f":25.5,"y":-17,"y2":-1},{"p":"EW","k":"down","f":28.5,"y":-7,"y2":-1},{"p":"EW","k":"down","f":33,"y":-16,"y2":-2},{"p":"EW","k":"down","f":36.5,"y":-8,"y2":-2},{"p":"EW","k":"down","f":40,"y":-18,"y2":-2},{"p":"EW","k":"down","f":43.5,"y":-9,"y2":-3},{"p":"EW","k":"down","f":48.5,"y":-13,"y2":-3},{"p":"EW","k":"down","f":51.5,"y":-20,"y2":-4},{"p":"EW","k":"down","f":55,"y":-8,"y2":-4},{"p":"EW","k":"down","f":59,"y":-16,"y2":-5},{"p":"EW","k":"down","f":64,"y":-20,"y2":-5},{"p":"EW","k":"down","f":70,"y":-10,"y2":-6},{"p":"EW","k":"down","f":74,"y":-18,"y2":-6},{"p":"EW","k":"down","f":78,"y":-20,"y2":-7},{"p":"EW","k":"down","f":82,"y":-12,"y2":-7},{"p":"EW","k":"down","f":86,"y":-17,"y2":-8},{"p":"EW","k":"down","f":93,"y":-13,"y2":-9},{"p":"EW","k":"down","f":98,"y":-20,"y2":-9},{"p":"EW","k":"down","f":102,"y":-16,"y2":-10},{"p":"EW","k":"down","f":107,"y":-20,"y2":-10},{"p":"EW","k":"down","f":112,"y":-14,"y2":-11},{"p":"EW","k":"down","f":121,"y":-17,"y2":-12},{"p":"EW","k":"down","f":130,"y":-16,"y2":-13},{"p":"EW","k":"down","f":138,"y":-18,"y2":-14},{"p":"EW","k":"down","f":142,"y":-20,"y2":-15},{"p":"EW","k":"down","f":148,"y":-20,"y2":-16},{"p":"EW","k":"down","f":155,"y":-19,"y2":-16},{"p":"EW","k":"down","f":161,"y":-20,"y2":-17},{"p":"EW","k":"down","f":166,"y":-20,"y2":-18},
{"p":"EW","k":"fr","f":3,"y":17,"y2":14},{"p":"EW","k":"fr","f":6,"y":24,"y2":20},{"p":"EW","k":"fr","f":9,"y":26,"y2":23},{"p":"EW","k":"fr","f":11,"y":23,"y2":20},{"p":"EW","k":"fr","f":13.5,"y":21,"y2":18},{"p":"EW","k":"fr","f":16,"y":22,"y2":19},{"p":"EW","k":"fr","f":19,"y":23,"y2":20},{"p":"EW","k":"fr","f":21,"y":22,"y2":19},{"p":"EW","k":"fr","f":24,"y":21,"y2":18},{"p":"EW","k":"fr","f":26,"y":21,"y2":18},{"p":"EW","k":"fr","f":29,"y":22,"y2":19},{"p":"EW","k":"fr","f":31,"y":21,"y2":18},{"p":"EW","k":"fr","f":34,"y":21,"y2":18},{"p":"EW","k":"fr","f":36,"y":20,"y2":17},{"p":"EW","k":"fr","f":39,"y":20,"y2":17},{"p":"EW","k":"fr","f":41.5,"y":19,"y2":16},{"p":"EW","k":"fr","f":44,"y":19,"y2":16},{"p":"EW","k":"fr","f":46,"y":19,"y2":16},{"p":"EW","k":"fr","f":49,"y":19,"y2":16},{"p":"EW","k":"fr","f":53.5,"y":18,"y2":15},{"p":"EW","k":"fr","f":56,"y":18,"y2":15},{"p":"EW","k":"fr","f":59,"y":18,"y2":15},{"p":"EW","k":"fr","f":61,"y":18,"y2":15},{"p":"EW","k":"fr","f":64,"y":17,"y2":14},{"p":"EW","k":"fr","f":66.5,"y":16,"y2":13},{"p":"EW","k":"fr","f":69,"y":16,"y2":13},{"p":"EW","k":"fr","f":71,"y":16,"y2":13},{"p":"EW","k":"fr","f":74,"y":16,"y2":13},{"p":"EW","k":"fr","f":76,"y":15,"y2":12},{"p":"EW","k":"fr","f":79,"y":15,"y2":12},{"p":"EW","k":"fr","f":81,"y":14,"y2":11},{"p":"EW","k":"fr","f":84,"y":14,"y2":11},{"p":"EW","k":"fr","f":86,"y":14,"y2":11},{"p":"EW","k":"fr","f":89,"y":14,"y2":11},{"p":"EW","k":"fr","f":91,"y":13,"y2":10},{"p":"EW","k":"fr","f":94,"y":14,"y2":10},{"p":"EW","k":"fr","f":96,"y":13,"y2":10},{"p":"EW","k":"fr","f":99,"y":13,"y2":10},{"p":"EW","k":"fr","f":101,"y":12,"y2":9},{"p":"EW","k":"fr","f":104,"y":12,"y2":9},{"p":"EW","k":"fr","f":106,"y":12,"y2":9},{"p":"EW","k":"fr","f":109,"y":12,"y2":9},{"p":"EW","k":"fr","f":111,"y":11,"y2":8},{"p":"EW","k":"fr","f":114,"y":11,"y2":8},{"p":"EW","k":"fr","f":116,"y":11,"y2":8},{"p":"EW","k":"fr","f":119,"y":10,"y2":7},{"p":"EW","k":"fr","f":122,"y":10,"y2":7},{"p":"EW","k":"fr","f":124,"y":10,"y2":6},{"p":"EW","k":"fr","f":126,"y":9,"y2":6},{"p":"EW","k":"fr","f":129,"y":9,"y2":6},{"p":"EW","k":"fr","f":131,"y":9,"y2":6},{"p":"EW","k":"fr","f":134,"y":9,"y2":6},{"p":"EW","k":"fr","f":136,"y":8,"y2":5},{"p":"EW","k":"fr","f":139,"y":8,"y2":5},{"p":"EW","k":"fr","f":141,"y":8,"y2":5},{"p":"EW","k":"fr","f":144,"y":7,"y2":4},{"p":"EW","k":"fr","f":146,"y":7,"y2":4},{"p":"EW","k":"fr","f":149,"y":7,"y2":3},{"p":"EW","k":"fr","f":152,"y":6,"y2":3},{"p":"EW","k":"fr","f":154,"y":6,"y2":3},{"p":"EW","k":"fr","f":156,"y":5,"y2":2},{"p":"EW","k":"fr","f":159,"y":5,"y2":2},{"p":"EW","k":"fr","f":161,"y":5,"y2":2},{"p":"EW","k":"fr","f":164,"y":4,"y2":1},{"p":"EW","k":"fr","f":166,"y":4,"y2":1},{"p":"EW","k":"fr","f":169,"y":4,"y2":1},{"p":"EW","k":"fr","f":171,"y":3,"y2":0},{"p":"EW","k":"fr","f":174,"y":3,"y2":0},{"p":"EW","k":"fr","f":176,"y":3,"y2":-1},{"p":"EW","k":"fr","f":178,"y":2,"y2":-1},{"p":"EW","k":"fr","f":183,"y":2,"y2":-1},{"p":"EW","k":"fr","f":186,"y":1,"y2":-2},{"p":"EW","k":"fr","f":189,"y":1,"y2":-2},{"p":"EW","k":"fr","f":191,"y":1,"y2":-2},{"p":"EW","k":"fr","f":194,"y":1,"y2":-2},{"p":"EW","k":"fr","f":196,"y":0,"y2":-3},{"p":"EW","k":"fr","f":199,"y":0,"y2":-3},{"p":"EW","k":"fr","f":201,"y":0,"y2":-3},{"p":"EW","k":"fr","f":204,"y":-1,"y2":-4},{"p":"EW","k":"fr","f":206,"y":-1,"y2":-4},{"p":"EW","k":"fr","f":209,"y":-1,"y2":-4},{"p":"EW","k":"fr","f":211,"y":-2,"y2":-5},{"p":"EW","k":"fr","f":214,"y":-2,"y2":-5},{"p":"EW","k":"fr","f":216,"y":-2,"y2":-5},{"p":"EW","k":"fr","f":219,"y":-2,"y2":-5},{"p":"EW","k":"fr","f":221,"y":-3,"y2":-6},{"p":"EW","k":"fr","f":224,"y":-3,"y2":-6},{"p":"EW","k":"fr","f":226,"y":-3,"y2":-6},{"p":"EW","k":"fr","f":229,"y":-4,"y2":-6},{"p":"EW","k":"fr","f":231,"y":-3,"y2":-6},{"p":"EW","k":"fr","f":234,"y":-3,"y2":-6},{"p":"EW","k":"fr","f":236,"y":-3,"y2":-6},{"p":"EW","k":"fr","f":239,"y":-3,"y2":-6},{"p":"EW","k":"fr","f":243,"y":-4,"y2":-7},{"p":"EW","k":"fr","f":246,"y":-4,"y2":-7},{"p":"EW","k":"fr","f":249,"y":-4,"y2":-7},{"p":"EW","k":"fr","f":253,"y":-5,"y2":-8},{"p":"EW","k":"fr","f":256,"y":-4,"y2":-7},{"p":"EW","k":"fr","f":259,"y":-5,"y2":-8},{"p":"EW","k":"fr","f":263,"y":-6,"y2":-9},{"p":"EW","k":"fr","f":266,"y":-5,"y2":-8},{"p":"EW","k":"fr","f":269,"y":-6,"y2":-9},{"p":"EW","k":"fr","f":273,"y":-7,"y2":-10},{"p":"EW","k":"fr","f":276,"y":-6,"y2":-9},{"p":"EW","k":"fr","f":279,"y":-7,"y2":-10},{"p":"EW","k":"fr","f":283,"y":-8,"y2":-11},{"p":"EW","k":"fr","f":286,"y":-7,"y2":-10},{"p":"EW","k":"fr","f":289,"y":-8,"y2":-11},{"p":"EW","k":"fr","f":293,"y":-9,"y2":-12},{"p":"EW","k":"fr","f":296,"y":-7,"y2":-11},{"p":"EW","k":"fr","f":298,"y":-6,"y2":-11},{"p":"EW","k":"fr","f":303,"y":-9,"y2":-12},{"p":"EW","k":"fr","f":306,"y":-10,"y2":-13},{"p":"EW","k":"fr","f":309,"y":-10,"y2":-13},{"p":"EW","k":"fr","f":313,"y":-9,"y2":-12},{"p":"EW","k":"fr","f":316,"y":-10,"y2":-13},{"p":"EW","k":"fr","f":319,"y":-10,"y2":-13},{"p":"EW","k":"fr","f":323,"y":-10,"y2":-13},{"p":"EW","k":"fr","f":326,"y":-11,"y2":-14},{"p":"EW","k":"fr","f":329,"y":-10,"y2":-13},{"p":"EW","k":"fr","f":333,"y":-11,"y2":-14},{"p":"EW","k":"fr","f":336,"y":-10,"y2":-13},{"p":"EW","k":"fr","f":339,"y":-11,"y2":-14},{"p":"EW","k":"fr","f":343,"y":-11,"y2":-14},{"p":"EW","k":"fr","f":346,"y":-11,"y2":-14},{"p":"EW","k":"fr","f":349,"y":-11,"y2":-14},{"p":"EW","k":"fr","f":353,"y":-11,"y2":-14},{"p":"EW","k":"fr","f":356,"y":-12,"y2":-15},{"p":"EW","k":"fr","f":359,"y":-11,"y2":-14},{"p":"EW","k":"fr","f":363,"y":-12,"y2":-15},{"p":"EW","k":"fr","f":366,"y":-12,"y2":-15},{"p":"EW","k":"fr","f":369,"y":-11,"y2":-14},{"p":"EW","k":"fr","f":373,"y":-13,"y2":-16},{"p":"EW","k":"fr","f":376,"y":-12,"y2":-15},{"p":"EW","k":"fr","f":379,"y":-13,"y2":-16},{"p":"EW","k":"fr","f":383,"y":-12,"y2":-15},{"p":"EW","k":"fr","f":386,"y":-13,"y2":-16},{"p":"EW","k":"fr","f":389,"y":-13,"y2":-16},{"p":"EW","k":"fr","f":393,"y":-14,"y2":-17},{"p":"EW","k":"fr","f":396,"y":-13,"y2":-16},{"p":"EW","k":"fr","f":399,"y":-14,"y2":-17},{"p":"EW","k":"fr","f":403,"y":-14,"y2":-17},{"p":"EW","k":"fr","f":406,"y":-15,"y2":-18},{"p":"EW","k":"fr","f":409,"y":-15,"y2":-18},{"p":"EW","k":"fr","f":413,"y":-16,"y2":-19},{"p":"EW","k":"fr","f":416,"y":-16,"y2":-19},
{"p":"EW","k":"up","f":50,"y":26,"y2":17},{"p":"EW","k":"up","f":60,"y":51,"y2":16},{"p":"EW","k":"up","f":120,"y":18,"y2":9},{"p":"EW","k":"up","f":150,"y":10.5,"y2":5},{"p":"EW","k":"up","f":180,"y":43,"y2":1},{"p":"EW","k":"up","f":240,"y":9,"y2":-5},{"p":"EW","k":"up","f":300,"y":28.5,"y2":-11},{"p":"EW","k":"up","f":330,"y":-9,"y2":-12},{"p":"EW","k":"up","f":350,"y":2,"y2":-13},{"p":"EW","k":"up","f":360,"y":-0.5,"y2":-13},{"p":"EW","k":"up","f":420,"y":19.6,"y2":-18},{"p":"EW","k":"up","f":427,"y":-19,"y2":-20},
{"p":"EW","k":"thick","f":180.3,"y":17,"y2":1},{"p":"EW","k":"thick","f":300,"y":23.5,"y2":-11},{"p":"EW","k":"thick","f":420,"y":6,"y2":-18},{"p":"EW","k":"thick","f":420.6,"y":-8,"y2":-18},
{"p":"EW","k":"gap","f":299.3,"y":-20,"y2":-6}
]
},
"vconcat":[
{
 "width":823,"height":272,
 "title":{"text":["AH: 11-Feb-2011","FFT for NS Data"],"dx":-15,"offset":5},
 "layer":[
  {"data":{"name":"band"},"transform":[{"filter":"datum.p==='NS'"}],
   "mark":{"type":"area","color":"#000","interpolate":"linear","clip":true},
   "encoding":{
    "x":{"field":"f","type":"quantitative","scale":{"domain":[0,500],"nice":false,"zero":false},
         "axis":{"orient":"bottom","values":[0,100,200,300,400,500],"grid":true,"gridDash":[1,2],"gridColor":"#000","gridOpacity":0.7,"tickSize":-8,"labelPadding":17,"title":null}},
    "y":{"field":"hi","type":"quantitative","scale":{"domain":[-20,80],"nice":false,"zero":false},
         "axis":{"orient":"left","values":[-20,0,20,40,60,80],"grid":true,"gridDash":[1,2],"gridColor":"#000","gridOpacity":0.7,"tickSize":-8,"labelPadding":13,"title":null}},
    "y2":{"field":"lo"}}},
  {"data":{"name":"spk"},"transform":[{"filter":"datum.p==='NS' && datum.k==='down'"}],
   "mark":{"type":"rule","color":"#555","strokeWidth":1,"clip":true},
   "encoding":{"x":{"field":"f","type":"quantitative","axis":null},"y":{"field":"y","type":"quantitative","axis":null},"y2":{"field":"y2"}}},
  {"data":{"name":"spk"},"transform":[{"filter":"datum.p==='NS' && datum.k==='fr'"}],
   "mark":{"type":"rule","color":"#444","strokeWidth":1,"clip":true},
   "encoding":{"x":{"field":"f","type":"quantitative","axis":null},"y":{"field":"y","type":"quantitative","axis":null},"y2":{"field":"y2"}}},
  {"data":{"name":"spk"},"transform":[{"filter":"datum.p==='NS' && datum.k==='up'"}],
   "mark":{"type":"rule","color":"#333","strokeWidth":1,"clip":true},
   "encoding":{
    "x":{"field":"f","type":"quantitative","axis":{"orient":"top","values":[0,100,200,300,400,500],"labels":false,"grid":false,"tickSize":-8,"title":null}},
    "y":{"field":"y","type":"quantitative","axis":{"orient":"right","values":[-20,0,20,40,60,80],"labels":false,"grid":false,"tickSize":-8,"title":null}},
    "y2":{"field":"y2"}}},
  {"data":{"name":"spk"},"transform":[{"filter":"datum.p==='NS' && datum.k==='thick'"}],
   "mark":{"type":"rule","color":"#000","strokeWidth":2,"clip":true},
   "encoding":{"x":{"field":"f","type":"quantitative","axis":null},"y":{"field":"y","type":"quantitative","axis":null},"y2":{"field":"y2"}}}
 ]
},
{
 "width":823,"height":271,
 "title":{"text":"FFT for EW Data","dx":-15,"offset":5},
 "layer":[
  {"data":{"name":"band"},"transform":[{"filter":"datum.p==='EW'"}],
   "mark":{"type":"area","color":"#000","interpolate":"linear","clip":true},
   "encoding":{
    "x":{"field":"f","type":"quantitative","scale":{"domain":[0,500],"nice":false,"zero":false},
         "axis":{"orient":"bottom","values":[0,100,200,300,400,500],"grid":true,"gridDash":[1,2],"gridColor":"#000","gridOpacity":0.7,"tickSize":-8,"labelPadding":17,"title":["Frequency (Hz)","Time (seconds) after 02:38:00 UT"],"titlePadding":8,"titleLineHeight":18}},
    "y":{"field":"hi","type":"quantitative","scale":{"domain":[-20,80],"nice":false,"zero":false},
         "axis":{"orient":"left","values":[-20,0,20,40,60,80],"grid":true,"gridDash":[1,2],"gridColor":"#000","gridOpacity":0.7,"tickSize":-8,"labelPadding":13,"title":null}},
    "y2":{"field":"lo"}}},
  {"data":{"name":"spk"},"transform":[{"filter":"datum.p==='EW' && datum.k==='down'"}],
   "mark":{"type":"rule","color":"#555","strokeWidth":1,"clip":true},
   "encoding":{"x":{"field":"f","type":"quantitative","axis":null},"y":{"field":"y","type":"quantitative","axis":null},"y2":{"field":"y2"}}},
  {"data":{"name":"spk"},"transform":[{"filter":"datum.p==='EW' && datum.k==='fr'"}],
   "mark":{"type":"rule","color":"#444","strokeWidth":1,"clip":true},
   "encoding":{"x":{"field":"f","type":"quantitative","axis":null},"y":{"field":"y","type":"quantitative","axis":null},"y2":{"field":"y2"}}},
  {"data":{"name":"spk"},"transform":[{"filter":"datum.p==='EW' && datum.k==='gap'"}],
   "mark":{"type":"rule","color":"#fff","strokeWidth":1,"clip":true},
   "encoding":{"x":{"field":"f","type":"quantitative","axis":null},"y":{"field":"y","type":"quantitative","axis":null},"y2":{"field":"y2"}}},
  {"data":{"name":"spk"},"transform":[{"filter":"datum.p==='EW' && datum.k==='up'"}],
   "mark":{"type":"rule","color":"#333","strokeWidth":1,"clip":true},
   "encoding":{
    "x":{"field":"f","type":"quantitative","axis":{"orient":"top","values":[0,100,200,300,400,500],"labels":false,"grid":false,"tickSize":-8,"title":null}},
    "y":{"field":"y","type":"quantitative","axis":{"orient":"right","values":[-20,0,20,40,60,80],"labels":false,"grid":false,"tickSize":-8,"title":null}},
    "y2":{"field":"y2"}}},
  {"data":{"name":"spk"},"transform":[{"filter":"datum.p==='EW' && datum.k==='thick'"}],
   "mark":{"type":"rule","color":"#000","strokeWidth":2,"clip":true},
   "encoding":{"x":{"field":"f","type":"quantitative","axis":null},"y":{"field":"y","type":"quantitative","axis":null},"y2":{"field":"y2"}}}
 ]
}
]
}
